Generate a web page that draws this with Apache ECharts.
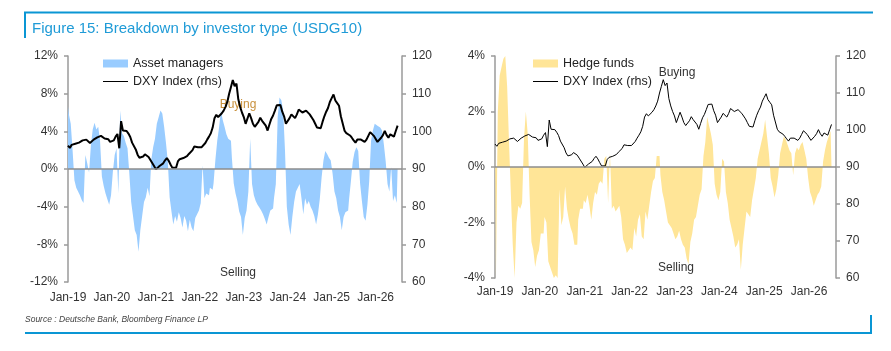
<!DOCTYPE html>
<html>
<head>
<meta charset="utf-8">
<title>Figure 15: Breakdown by investor type (USDG10)</title>
<script src="https://cdn.jsdelivr.net/npm/echarts@6.0.0/dist/echarts.min.js"></script>
<style>
  html, body { margin: 0; padding: 0; background: #fff; }
  #chart { width: 891px; height: 351px; }
</style>
</head>
<body>
<div id="chart"></div>
<script>
// semi-monthly observations starting Jan-19 (index / 24 = years since Jan-19)
const tickLabels = ['Jan-19', 'Jan-20', 'Jan-21', 'Jan-22', 'Jan-23', 'Jan-24', 'Jan-25', 'Jan-26']

const dxy = [
  96.2, 95.6, 96.4, 96.8, 96.7, 97.2, 97.0, 97.4, 97.6, 97.3, 97.8, 97.5, 96.9, 97.4, 97.8, 98.0, 98.4, 98.3, 98.8, 99.0, 98.1, 97.8, 97.9, 97.2,
  97.3, 97.6, 98.6, 99.3, 95.5, 102.7, 100.2, 99.8, 100.1, 99.4, 98.5, 97.0, 96.5, 95.2, 93.8, 93.0, 92.8, 93.3, 93.9, 93.5, 93.2, 92.4, 92.0, 90.8,
  89.9, 90.3, 90.8, 90.5, 91.5, 92.3, 92.9, 92.2, 91.2, 90.3, 89.9, 90.3, 92.0, 92.6, 92.3, 92.9, 92.7, 93.4, 94.0, 94.2, 95.0, 96.0, 96.2, 95.8,
  95.6, 95.8, 96.3, 96.9, 97.8, 98.6, 99.5, 101.0, 103.5, 104.4, 103.8, 103.7, 104.8, 105.5, 106.5, 107.8, 110.0, 111.8, 113.6, 112.0, 112.7, 108.5, 106.5, 105.0,
  103.8, 102.0, 101.8, 104.8, 103.5, 102.0, 101.2, 101.5, 102.5, 103.6, 102.8, 103.0, 101.5, 100.2, 101.8, 103.3, 104.2, 105.5, 106.9, 106.5, 107.0, 105.2, 104.0, 102.0,
  102.5, 103.5, 104.5, 104.0, 103.5, 104.5, 105.8, 106.0, 105.0, 104.6, 105.5, 105.2, 104.5, 104.0, 103.0, 102.0, 101.0, 100.6, 100.8, 102.5, 104.0, 105.2, 106.2, 107.8,
  108.8, 109.8, 108.2, 107.5, 106.8, 104.0, 103.8, 100.2, 99.5, 99.8, 98.9, 98.3, 97.6, 97.0, 97.8, 98.2, 97.8, 98.0, 97.2, 97.8, 98.8, 99.8, 100.0, 98.8,
  98.5, 97.2, 96.8, 98.3, 99.0, 100.1, 99.0, 98.3, 99.2, 98.9, 98.6, 100.1, 101.5
]

const assetManagers = [
  6.6, 5.8, 4.8, 2.0, -1.2, -2.0, -2.4, -2.8, -3.3, -3.6, 1.5, 0.6, -0.4, 2.5, 4.2, 4.9, 4.2, 4.5, 3.0, -0.8, -1.8, -2.6, -3.2, -3.8,
  -2.8, -0.3, 1.5, 2.2, -2.6, 6.2, 3.8, 3.5, 2.8, 2.2, -0.5, -3.5, -5.0, -6.5, -7.0, -8.8, -6.5, -5.0, -3.5, -3.0, -2.0, -2.9, 1.0, 2.3,
  3.2, 4.8, 5.5, 6.2, 5.9, 4.5, 2.8, 0.8, -3.0, -4.5, -5.9, -5.0, -5.6, -4.6, -5.2, -6.2, -5.0, -5.5, -6.6, -5.4, -6.2, -6.6, -5.2, -4.8,
  -4.4, -3.6, 0.4, -3.1, -2.6, -2.8, -2.0, -2.2, -1.5, 1.0, 3.0, 4.4, 6.2, 5.2, 4.5, 3.7, 3.2, 3.0, 1.2, -1.5, -2.6, -3.4, -4.5, -5.1,
  -7.0, -5.2, -4.4, -2.4, 3.2, -1.6, -2.8, -3.4, -3.8, -4.1, -4.4, -4.8, -5.3, -5.9, -5.1, -4.4, -4.2, -3.1, -1.6, 5.5, 7.6, 7.3, 6.2, 2.0,
  -4.0, -5.9, -7.0, -5.1, -3.5, -2.4, -2.0, -1.6, -3.1, -4.8, -3.1, -3.8, -3.4, -4.0, -4.4, -5.0, -5.9, -4.8, -3.2, -0.9, 0.9, 1.9, 1.6, 1.2,
  0.9, -0.5, -2.4, -3.1, -4.4, -5.1, -6.5, -5.1, -4.6, -4.4, -3.2, -1.3, 0.8, 1.8, 2.3, 1.9, -1.5, -3.4, -5.1, -5.5, -3.8, -1.3, 3.0, 4.1,
  4.8, 4.6, 4.4, 4.2, 4.1, 2.6, 0.8, -1.6, -2.4, 0.2, -3.4, -2.8, -3.6
]

const hedgeFunds = [
  0.9, -4.0, 2.0, 3.3, 3.6, 3.9, 4.0, 2.9, 0.9, -1.0, -2.8, -4.0, -2.0, -1.4, -1.5, -1.3, 1.0, 2.0, 1.2, -1.0, -2.7, -3.0, -3.6, -3.2,
  -3.0, -2.4, -2.4, -1.8, -2.0, -3.4, -3.6, -3.8, -4.0, -3.9, -4.0, -0.8, -2.1, -1.8, -0.7, -1.5, -1.9, -2.2, -2.4, -2.8, -2.8, -1.9, -1.5, -1.5,
  -1.2, -1.3, -1.0, -1.4, -1.9, -1.3, -0.9, -1.0, -0.6, -0.5, -0.6, 0.3, 0.4, -1.3, 0.5, -1.5, -1.4, -1.6, -1.5, -1.4, -1.8, -2.6, -2.8, -3.1,
  -3.0, -2.9, -3.0, -2.2, -2.5, -1.9, -1.7, -2.5, -2.6, -1.6, -1.9, -1.4, -0.9, -0.5, -0.4, 0.4, 0.4, -0.3, -0.9, -1.2, -1.6, -2.0, -2.1, -2.2,
  -2.4, -2.6, -2.5, -2.3, -2.6, -2.8, -2.9, -3.3, -3.5, -2.7, -2.4, -1.9, -1.8, -1.4, -1.0, -0.8, 0.4, 0.9, 1.8, 1.5, 1.2, 0.8, -0.6, -1.0,
  -1.2, -0.9, 0.3, 0.2, -0.9, -1.3, -1.9, -2.2, -2.5, -2.9, -2.8, -2.6, -3.7, -2.8, -2.2, -1.6, -1.7, -1.8, -1.2, -0.8, -0.4, 0.3, 0.6, 0.9,
  1.2, 1.7, 1.1, 0.5, -0.4, -0.7, -1.1, -0.8, -0.3, 0.5, 0.8, 1.1, 1.0, 0.8, 0.6, 0.5, -0.3, 0.5, 0.7, 0.6, 0.8, 0.9, 0.6, 0.3,
  -0.4, -0.9, -1.1, -1.4, -1.2, -1.0, -0.9, -0.7, 0.2, 0.6, 0.9, 1.1, 1.3
]

const FONT = '"Liberation Sans", Arial, sans-serif'
const AXIS_GREY = '#9a9a9a'
const TEXT = '#333'

const toPairs = arr => arr.map((v, i) => [i / 24, v])

function xAxisFor(gridIndex, margin) {
  return {
    type: 'value',
    gridIndex,
    min: 0,
    max: 7.6,
    interval: 1,
    axisLine: { show: false },
    axisTick: { show: false },
    splitLine: { show: false },
    axisLabel: {
      margin,
      color: TEXT,
      fontSize: 12,
      fontFamily: FONT,
      formatter: v => (Math.abs(v - Math.round(v)) < 1e-6 ? (tickLabels[Math.round(v)] || '') : '')
    }
  }
}

function yAxisFor(gridIndex, position, min, max, interval, fmt) {
  return {
    type: 'value',
    gridIndex,
    position,
    min,
    max,
    interval,
    axisLine: { show: true, lineStyle: { color: AXIS_GREY, width: 1.5 } },
    axisTick: { show: true, length: 4, lineStyle: { color: AXIS_GREY, width: 1.5 } },
    splitLine: { show: false },
    axisLabel: { margin: 10, color: TEXT, fontSize: 12, fontFamily: FONT, formatter: fmt }
  }
}

const zeroLine = {
  symbol: ['none', 'none'],
  silent: true,
  label: { show: false },
  lineStyle: { color: '#8c8c8c', width: 1.5, type: 'solid' },
  data: [{ yAxis: 0 }]
}

// flows drawn as a stepped filled area so the fill is continuous like dense daily bars
function flowSeries(name, data, xi, yi, color) {
  return {
    name,
    type: 'line',
    xAxisIndex: xi,
    yAxisIndex: yi,
    step: 'middle',
    symbol: 'none',
    itemStyle: { color },
    lineStyle: { width: 0, color },
    areaStyle: { color, opacity: 1 },
    data: toPairs(data),
    markLine: zeroLine,
    z: 2
  }
}

function legendFor(left, flowName, lineIcon) {
  return {
    left,
    top: 57,
    padding: 0,
    orient: 'vertical',
    itemWidth: 25,
    itemHeight: 8,
    itemGap: 5,
    textStyle: { fontSize: 12.5, color: '#222', fontFamily: FONT },
    data: [
      { name: flowName, icon: 'rect' },
      { name: 'DXY Index (rhs)', icon: lineIcon, itemStyle: { color: '#000', borderWidth: 0 } }
    ]
  }
}

const chart = echarts.init(document.getElementById('chart'))
chart.setOption({
  animation: false,
  textStyle: { fontFamily: FONT },
  grid: [
    { left: 68, top: 56, width: 334, height: 226 },
    { left: 495, top: 56, width: 341, height: 222 }
  ],
  xAxis: [xAxisFor(0, 10), xAxisFor(1, 8)],
  yAxis: [
    yAxisFor(0, 'left', -12, 12, 4, '{value}%'),
    yAxisFor(0, 'right', 60, 120, 10, '{value}'),
    yAxisFor(1, 'left', -4, 4, 2, '{value}%'),
    yAxisFor(1, 'right', 60, 120, 10, '{value}')
  ],
  legend: [
    legendFor(103, 'Asset managers', 'path://M0,0L0.01,0M0,3.4L25,3.4L25,4.6L0,4.6ZM0,8L0.01,8'),
    legendFor(533, 'Hedge funds', 'path://M0,0L0.01,0M0,3.6L25,3.6L25,4.4L0,4.4ZM0,8L0.01,8')
  ],
  series: [
    flowSeries('Asset managers', assetManagers, 0, 0, '#99ccff'),
    {
      name: 'DXY Index (rhs)',
      type: 'line',
      xAxisIndex: 0,
      yAxisIndex: 1,
      symbol: 'none',
      itemStyle: { color: '#000' },
      lineStyle: { color: '#000', width: 2 },
      data: toPairs(dxy),
      z: 4
    },
    flowSeries('Hedge funds', hedgeFunds, 1, 2, '#ffe597'),
    {
      name: 'DXY Index (rhs)',
      type: 'line',
      xAxisIndex: 1,
      yAxisIndex: 3,
      symbol: 'none',
      itemStyle: { color: '#000' },
      lineStyle: { color: '#000', width: 1 },
      data: toPairs(dxy),
      z: 4
    }
  ],
  graphic: [
    {
      type: 'polyline',
      silent: true,
      shape: { points: [[25, 38], [25, 12.5], [873, 12.5]] },
      style: { stroke: '#0a96d4', lineWidth: 2, fill: null }
    },
    {
      type: 'polyline',
      silent: true,
      shape: { points: [[25, 333], [871, 333], [871, 315]] },
      style: { stroke: '#0a96d4', lineWidth: 2, fill: null }
    },
    {
      type: 'text',
      x: 32,
      y: 29,
      style: {
        text: 'Figure 15: Breakdown by investor type (USDG10)',
        fill: '#1f9bd7',
        font: '15px ' + FONT,
        verticalAlign: 'middle'
      }
    },
    {
      type: 'text',
      x: 25,
      y: 320,
      style: {
        text: 'Source : Deutsche Bank, Bloomberg Finance LP',
        fill: '#444',
        font: 'italic 8.5px ' + FONT,
        verticalAlign: 'middle'
      }
    },
    {
      type: 'text',
      x: 238,
      y: 105,
      z: 1,
      style: { text: 'Buying', fill: '#c9913d', font: '12px ' + FONT, align: 'center', verticalAlign: 'middle' }
    },
    {
      type: 'text',
      x: 238,
      y: 273,
      style: { text: 'Selling', fill: TEXT, font: '12px ' + FONT, align: 'center', verticalAlign: 'middle' }
    },
    {
      type: 'text',
      x: 677,
      y: 73,
      style: { text: 'Buying', fill: TEXT, font: '12px ' + FONT, align: 'center', verticalAlign: 'middle' }
    },
    {
      type: 'text',
      x: 676,
      y: 268,
      style: { text: 'Selling', fill: TEXT, font: '12px ' + FONT, align: 'center', verticalAlign: 'middle' }
    }
  ]
})
</script>
</body>
</html>
